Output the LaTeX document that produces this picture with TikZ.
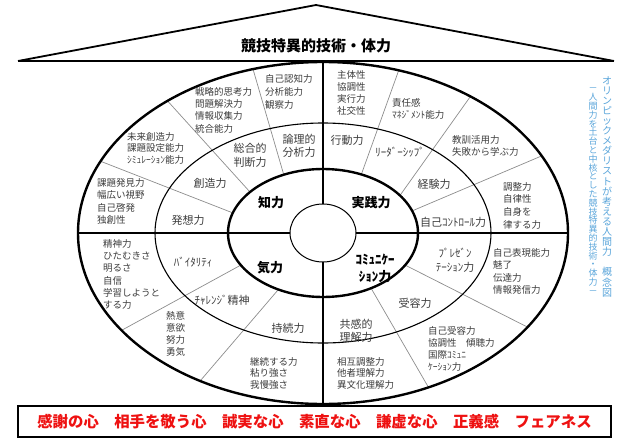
\documentclass[tikz,border=0pt]{standalone}
\usepackage{fontspec}
\newfontfamily\jp{Noto Sans CJK JP}
\definecolor{labc}{HTML}{3C3C3C}
\definecolor{radc}{HTML}{8C8C8C}
\definecolor{sideblue}{HTML}{5AA5DA}
\definecolor{redtxt}{HTML}{EE1111}
\begin{document}
\begin{tikzpicture}[x=1pt,y=-1pt,
  lab/.style={font=\jp\fontsize{9.5}{12.3}\selectfont, text=labc, inner sep=0pt, align=left, anchor=north west},
  mid/.style={font=\jp\fontsize{11}{13.5}\selectfont, text=labc, inner sep=0pt, align=center},
  core/.style={font=\jp\bfseries\fontsize{13}{17}\selectfont, text=black, inner sep=0pt, align=center},
  radial/.style={draw=radc, line width=0.7pt},
  sidetext/.style={text=sideblue, inner sep=0pt, align=center, anchor=north},
]
\useasboundingbox (0,0) rectangle (627,439);
% roof
\coordinate (roofL) at (18,61);
\coordinate (roofT) at (316,5);
\coordinate (roofR) at (614,61);
\draw[line width=1.8pt, line join=miter] (roofL) -- (roofT) -- (roofR);
\draw[line width=1.2pt] (roofL) -- (roofR);
\node[font=\jp\bfseries\fontsize{15}{17}\selectfont, inner sep=0pt] (title) at (316,46) {競技特異的技術・体力};
% bottom box
\node[draw, line width=1.3pt, minimum width=593pt, minimum height=31pt, inner sep=0pt,
      font=\jp\bfseries\fontsize{15.4}{17}\selectfont, text=redtxt] (box) at (314.5,421.5)
      {感謝の心　相手を敬う心　誠実な心　素直な心　謙虚な心　正義感　フェアネス};
% ellipse geometry
\coordinate (C) at (323,233);
\foreach \n/\to/\ti in {L1/106.6/114.4, L2/129.4/140.2, L3/155.2/161.7,
                        R1/72/66.2, R2/53/35.9, R3/26.8/20.2,
                        B1/214.7/210.1, B2/239.9/242,
                        C1/-33.4/-30.1, C2/-64.5/-59.6}{
  \coordinate (\n o) at ({323+245*cos(\to)},{233-171*sin(\to)});
  \coordinate (\n i) at ({323+95*cos(\ti)},{233-64*sin(\ti)});
}
\foreach \n in {L1,L2,L3,R1,R2,R3,B1,B2,C1,C2}{
  \draw[radial] (\n o) -- (\n i);
}
\draw[line width=1.1pt] (C) ellipse [x radius=168pt, y radius=110pt];
\draw[line width=2.4pt] (C) ellipse [x radius=245pt, y radius=171pt];
\draw[line width=2.4pt] (C) ellipse [x radius=95pt, y radius=64pt];
% axes
\coordinate (vtop) at (323,61);
\coordinate (hl) at (78,233);
\coordinate (hr) at (568,233);
\draw[line width=1.8pt] (vtop) -- (vtop |- box.north);
\draw[line width=1.8pt] (hl) -- (hr);
\draw[line width=1pt, fill=white] (C) ellipse [x radius=33pt, y radius=29pt];
% upper-left
\node[lab, font=\jp\fontsize{9.5}{13}\selectfont] (ul1) at (265,74) {自己認知力\\分析能力\\観察力};
\node[lab] (ul2) at (195,87) {戦略的思考力\\問題解決力\\情報収集力\\統合能力};
\node[lab, font=\jp\fontsize{9.5}{11.6}\selectfont] (ul3) at (127,132) {未来創造力\\課題設定能力\\ｼﾐｭﾚｰｼｮﾝ能力};
\node[lab, font=\jp\fontsize{9.5}{12.5}\selectfont] (ul4) at (97,178) {課題発見力\\幅広い視野\\自己啓発\\独創性};
\node[mid, font=\jp\fontsize{11}{13}\selectfont] (lr) at (299,146) {論理的\\分析力};
\node[mid, font=\jp\fontsize{11}{14}\selectfont] (sj) at (250,155) {総合的\\判断力};
\node[mid] (sz) at (210,183) {創造力};
\node[mid] (hs) at (188,220) {発想力};
% upper-right
\node[lab, font=\jp\fontsize{9.5}{12.2}\selectfont] (ur1) at (337,70) {主体性\\協調性\\実行力\\社交性};
\node[lab, font=\jp\fontsize{9.5}{12}\selectfont] (ur2) at (392,98) {責任感\\ﾏﾈｼﾞﾒﾝﾄ能力};
\node[lab, font=\jp\fontsize{9.5}{12}\selectfont] (ur3) at (452,135) {教訓活用力\\失敗から学ぶ力};
\node[lab, font=\jp\fontsize{9.5}{12.7}\selectfont] (ur4) at (503,182) {調整力\\自律性\\自身を\\律する力};
\node[mid] (kd) at (347,140) {行動力};
\node[mid] (ld) at (400,152) {ﾘｰﾀﾞｰｼｯﾌﾟ};
\node[mid] (kk) at (434,184) {経験力};
\node[mid] (sc) at (453,222) {自己ｺﾝﾄﾛｰﾙ力};
% lower-left
\node[lab] (ll1) at (103,239) {精神力\\ひたむきさ\\明るさ\\自信\\学習しようと\\する力};
\node[lab, font=\jp\fontsize{9.5}{12}\selectfont] (ll2) at (166,311) {熱意\\意欲\\努力\\勇気};
\node[lab, font=\jp\fontsize{9.5}{11.5}\selectfont] (ll3) at (250,357) {継続する力\\粘り強さ\\我慢強さ};
\node[mid] (vt) at (193,262) {ﾊﾞｲﾀﾘﾃｨ};
\node[mid] (cs) at (222,300) {ﾁｬﾚﾝｼﾞ精神};
\node[mid] (jz) at (288,328) {持続力};
% lower-right
\node[mid, font=\jp\fontsize{11}{14}\selectfont] (pr) at (455,260) {ﾌﾟﾚｾﾞﾝ\\ﾃｰｼｮﾝ力};
\node[lab, font=\jp\fontsize{9.5}{12.5}\selectfont] (lr1) at (493,248) {自己表現能力\\魅了\\伝達力\\情報発信力};
\node[mid] (jy) at (415,303) {受容力};
\node[lab, font=\jp\fontsize{9.5}{12}\selectfont] (lr2) at (428,326) {自己受容力\\協調性　傾聴力\\国際ｺﾐｭﾆ\\ｹｰｼｮﾝ力};
\node[mid, font=\jp\fontsize{11}{13}\selectfont] (kr) at (356,331) {共感的\\理解力};
\node[lab, font=\jp\fontsize{9.5}{11.5}\selectfont] (lr3) at (337,357) {相互調整力\\他者理解力\\異文化理解力};
% core
\node[core] (chi) at (271,203) {知力};
\node[core] (jis) at (371,203) {実践力};
\node[core] (ki) at (270,268) {気力};
\node[core] (com) at (375,268.5) {ｺﾐｭﾆｹｰ\\ｼｮﾝ力};
% side vertical texts
\node[sidetext, font=\jp\fontsize{10}{10.1}\selectfont] (sideA) at (607,76)
  {オ\\リ\\ン\\ピ\\ッ\\ク\\メ\\ダ\\リ\\ス\\ト\\が\\考\\え\\る\\人\\間\\力\\　\\概\\念\\図};
\node[sidetext, font=\jp\fontsize{9}{8.8}\selectfont] (sideB) at (593,88)
  {－\\人\\間\\力\\を\\土\\台\\と\\中\\核\\と\\し\\た\\競\\技\\特\\異\\的\\技\\術\\・\\体\\力\\－};
\end{tikzpicture}
\end{document}
